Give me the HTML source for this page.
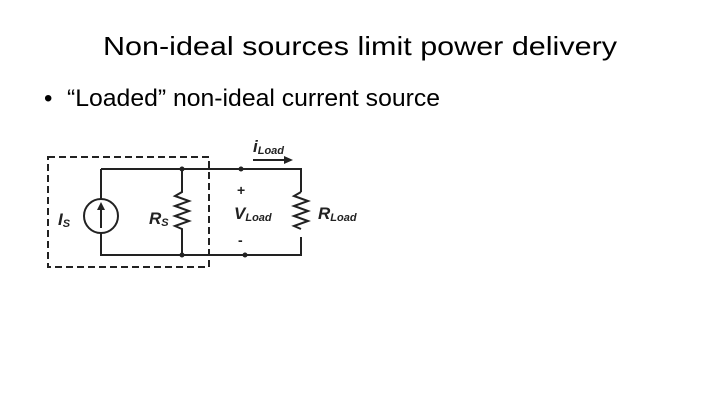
<!DOCTYPE html>
<html><head><style>html,body{margin:0;padding:0;background:#fff}</style></head><body>
<svg width="720" height="405" viewBox="0 0 720 405" xmlns="http://www.w3.org/2000/svg" font-family="Liberation Sans, sans-serif">
<rect width="720" height="405" fill="#fff"/>
<text x="103" y="55" font-size="26" textLength="514" lengthAdjust="spacingAndGlyphs">Non-ideal sources limit power delivery</text>
<text x="44" y="106" font-size="24">•</text>
<text x="67" y="106" font-size="24" textLength="373" lengthAdjust="spacingAndGlyphs">“Loaded” non-ideal current source</text>
<g stroke="#222" stroke-width="2" fill="none">
<rect x="48" y="157" width="161" height="110" stroke-dasharray="7,4"/>
<path d="M101 169H301V192M301 237V255H101V233M101 199V169"/>
<path d="M182 169V192l-7 4 14 5-14 5 14 5-14 5 14 5-14 5 7 3V255"/>
<path d="M301 192l-7 4 14 5-14 5 14 5-14 5 14 5-14 5 7 3"/>
<circle cx="101" cy="216" r="17"/>
<path d="M101 228V207"/>
<path d="M253 160H286"/>
</g>
<path d="M101 202l-4 8h8z" fill="#222"/>
<path d="M293 160l-9-4v8z" fill="#222"/>
<g fill="#222">
<circle cx="182" cy="169" r="2.5"/><circle cx="182" cy="255" r="2.5"/>
<circle cx="241" cy="169" r="2.5"/><circle cx="245" cy="255" r="2.5"/>
</g>
<g font-weight="bold" font-style="italic" fill="#222">
<text x="58" y="225" font-size="17">I<tspan font-size="11" dy="2">S</tspan></text>
<text x="149" y="224" font-size="17">R<tspan font-size="11" dy="2">S</tspan></text>
<text x="234" y="219" font-size="17">V<tspan font-size="11" dy="2">Load</tspan></text>
<text x="318" y="219" font-size="17">R<tspan font-size="11" dy="2">Load</tspan></text>
<text x="253" y="152" font-size="17">i<tspan font-size="11" dy="2">Load</tspan></text>
</g>
<text x="237" y="195" font-size="14" font-weight="bold" fill="#222">+</text>
<text x="238" y="245" font-size="14" font-weight="bold" fill="#222">-</text>
</svg>
</body></html>
